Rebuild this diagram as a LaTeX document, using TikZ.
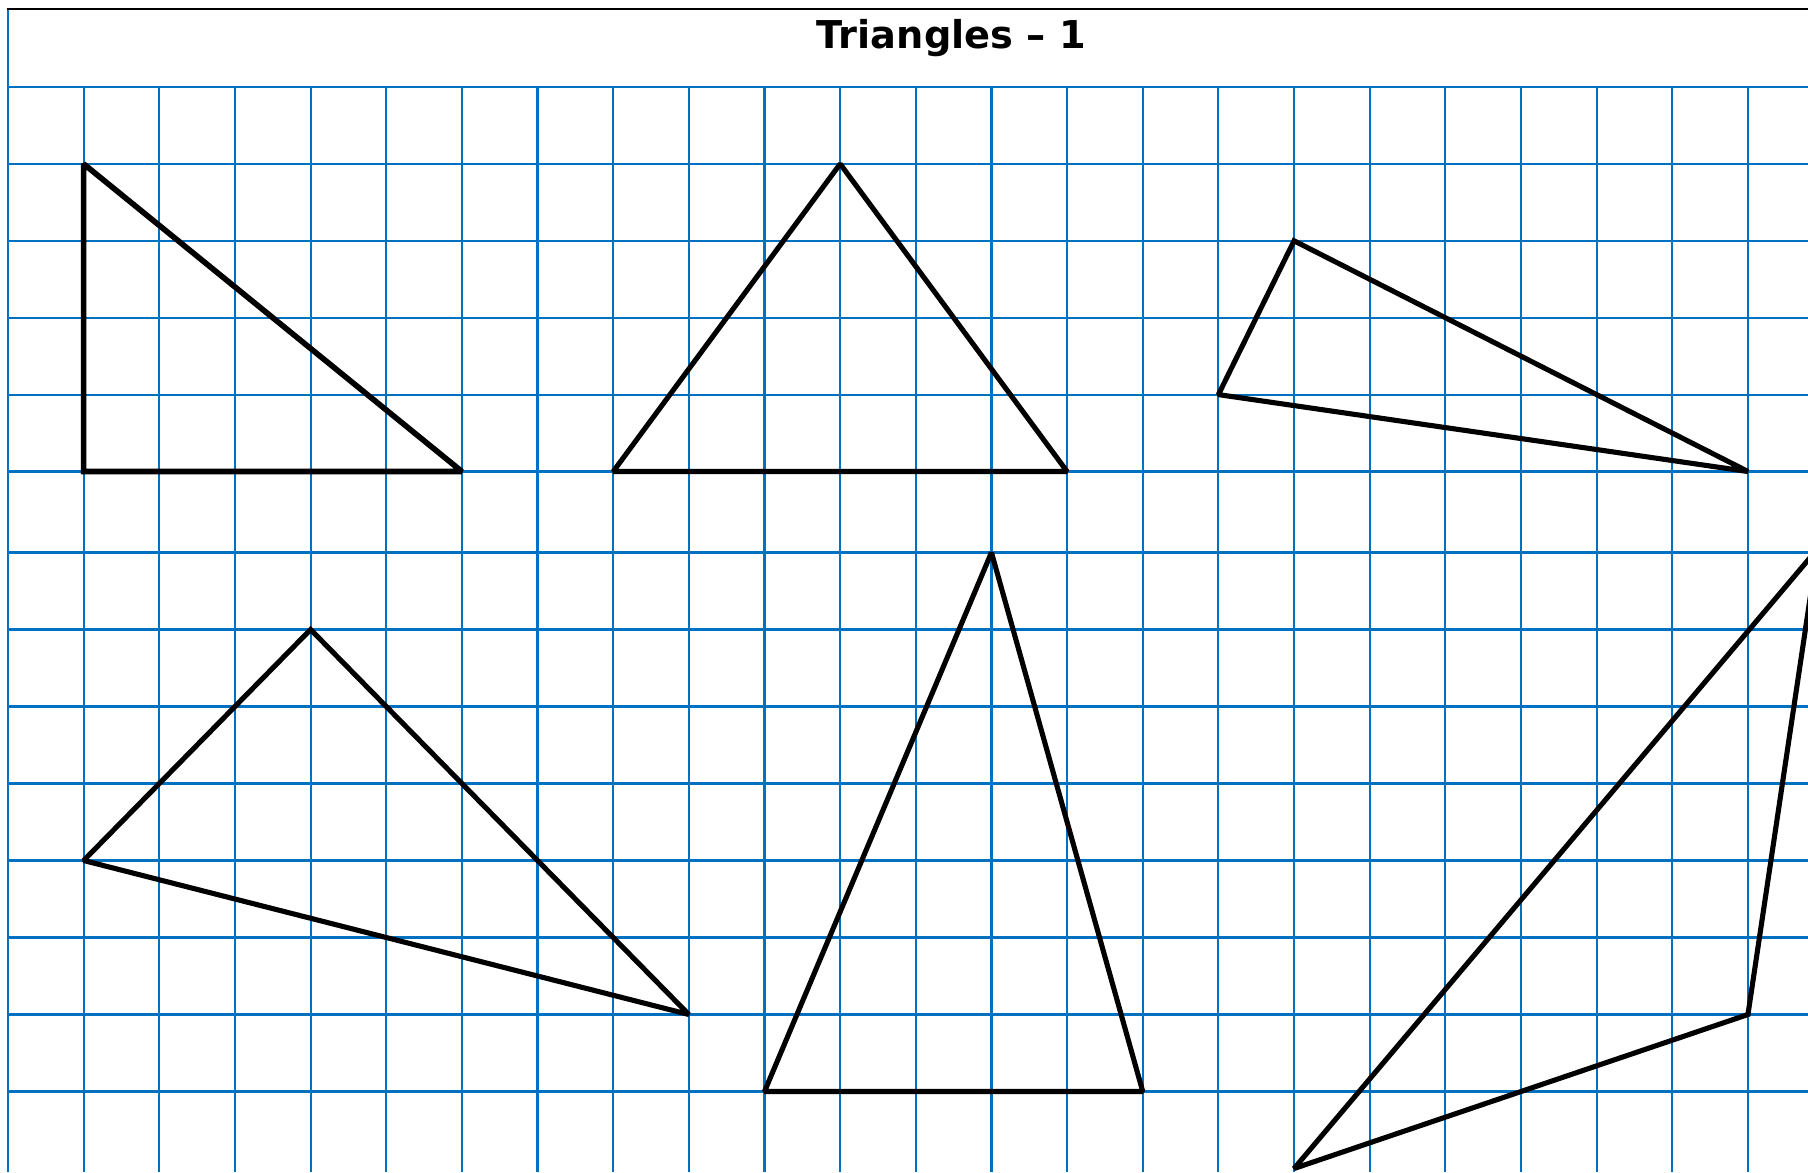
\documentclass[tikz,border=0pt]{standalone}
\usepackage{fontspec}
\setmainfont{DejaVu Sans}
\definecolor{gridblue}{RGB}{0,112,192}
\tikzset{
  gridline/.style={draw=gridblue, line width=0.62pt},
  frameline/.style={draw=black, line width=0.65pt},
  tri/.style={draw=black, line width=1.45pt, line join=miter, miter limit=1.5},
  titletext/.style={font=\bfseries\fontsize{10.9}{13}\selectfont, anchor=base, inner sep=0pt}
}
\begin{document}
\begin{tikzpicture}[x=0.01cm, y=-0.01cm]
\useasboundingbox (0,0) rectangle (1808,1172);
\begin{scope}
\clip (0,0) rectangle (1808,1172);
% grid
\foreach \k in {1,...,23} {
  \draw[gridline] ({8+75.65*\k},87) -- ({8+75.65*\k},1172);
}
\foreach \yy in {87,163.9,240.8,317.7,394.6,471.5,552.5,629.5,706.5,783.5,860.5,937.5,1014.5,1091.5} {
  \draw[gridline] (8,\yy) -- (1808,\yy);
}
\draw[gridline] (8,9) -- (8,1172);
\draw[frameline] (7,9) -- (1808,9);

% title
\node[titletext] (title) at (951.5,48.3) {Triangles – 1};

% vertices
\coordinate (a1) at (83.65,163.9);
\coordinate (a2) at (83.65,471.5);
\coordinate (a3) at (461.9,471.5);

\coordinate (b1) at (613.2,471.5);
\coordinate (b2) at (840.15,163.9);
\coordinate (b3) at (1067.1,471.5);

\coordinate (c1) at (1218.4,394.6);
\coordinate (c2) at (1294.05,240.8);
\coordinate (c3) at (1747.95,471.5);

\coordinate (d1) at (83.65,860.5);
\coordinate (d2) at (310.6,629.5);
\coordinate (d3) at (688.85,1014.5);

\coordinate (e1) at (991.45,552.5);
\coordinate (e2) at (764.5,1091.5);
\coordinate (e3) at (1142.75,1091.5);

\coordinate (f1) at (1294.05,1168.5);
\coordinate (f2) at (1747.95,1014.5);
\coordinate (f3) at (1817.4,549);

% triangles
\draw[tri, line width=1.6pt] (a1) -- (a2) -- (a3) -- cycle;
\draw[tri] (b1) -- (b2) -- (b3) -- cycle;
\draw[tri] (c1) -- (c2) -- (c3) -- cycle;
\draw[tri] (d1) -- (d2) -- (d3) -- cycle;
\draw[tri] (e1) -- (e2) -- (e3) -- cycle;
\draw[tri] (f1) -- (f2) -- (f3) -- cycle;
\end{scope}
\end{tikzpicture}
\end{document}
